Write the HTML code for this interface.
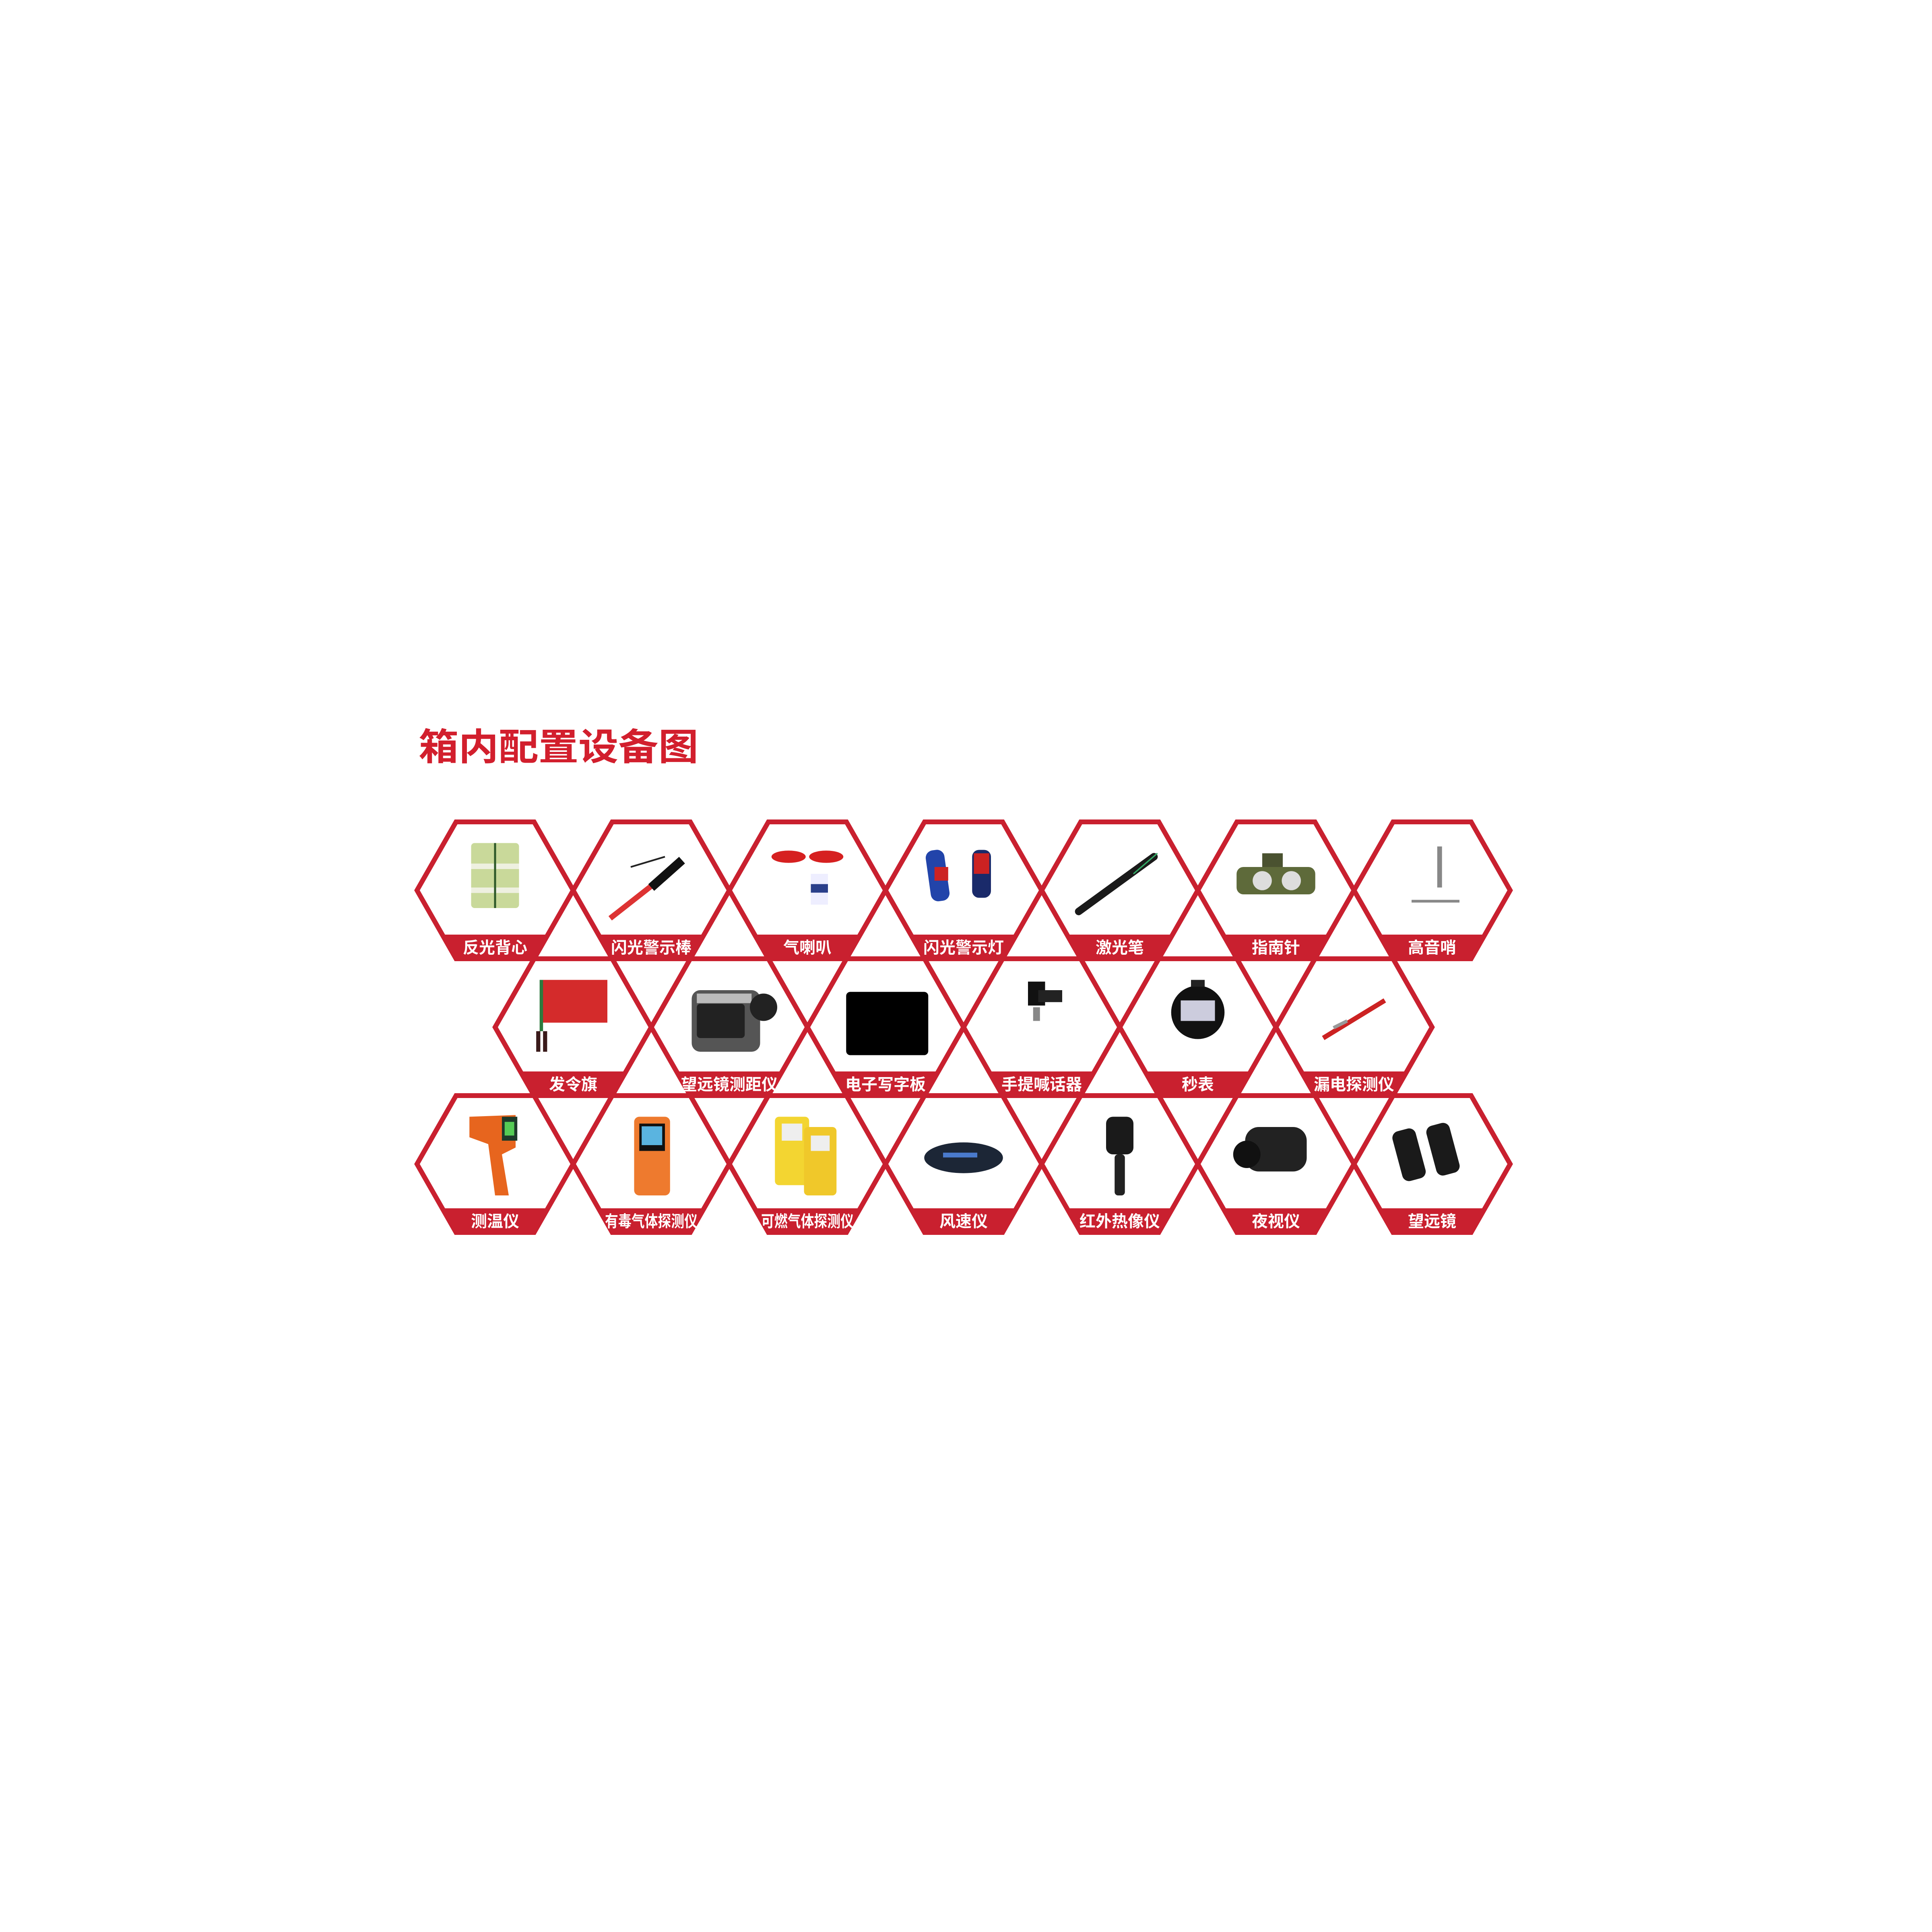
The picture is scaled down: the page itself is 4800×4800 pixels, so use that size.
<!DOCTYPE html>
<html><head><meta charset="utf-8">
<style>
html,body{margin:0;padding:0;background:#fff;}
svg{display:block}
text{font-family:"Liberation Sans","Noto Sans CJK SC",sans-serif;}
</style></head>
<body>
<svg width="4800" height="4800" viewBox="0 0 4800 4800" xmlns="http://www.w3.org/2000/svg">
<defs>
<g id="hex">
<polygon points="-194,0 -97,-170 97,-170 194,0 97,170 -97,170" fill="none" stroke="#c9202f" stroke-width="12" stroke-linejoin="miter"/>
<polygon points="-131,110 131,110 97,170 -97,170" fill="#c9202f"/>
</g>
</defs>
<text x="1040" y="1888" font-size="92" font-weight="bold" fill="#d21f2d" textLength="695" lengthAdjust="spacingAndGlyphs">箱内配置设备图</text>

<!-- Row 1 cy=2212 -->
<g transform="translate(1230,2212)"><use href="#hex"/><g transform="translate(0,10) scale(0.85)">
 <rect x="-70" y="-150" width="140" height="190" rx="10" fill="#c9d99a"/>
 <rect x="-70" y="-90" width="140" height="16" fill="#eef0e0"/><rect x="-70" y="-20" width="140" height="16" fill="#eef0e0"/>
 <line x1="0" y1="-150" x2="0" y2="40" stroke="#2f5a2a" stroke-width="6"/></g>
 <text x="0" y="156" font-size="40" font-weight="bold" fill="#fff" text-anchor="middle">反光背心</text></g>
<g transform="translate(1618,2212)"><use href="#hex"/><g transform="translate(0,10) scale(0.85)">
 <line x1="-120" y1="70" x2="20" y2="-40" stroke="#d33" stroke-width="16"/>
 <line x1="0" y1="-20" x2="90" y2="-100" stroke="#111" stroke-width="26"/>
 <line x1="-60" y1="-80" x2="40" y2="-110" stroke="#222" stroke-width="5"/></g>
 <text x="0" y="156" font-size="40" font-weight="bold" fill="#fff" text-anchor="middle" textLength="200" lengthAdjust="spacingAndGlyphs">闪光警示棒</text></g>
<g transform="translate(2006,2212)"><use href="#hex"/><g transform="translate(0,10) scale(0.85)">
 <ellipse cx="-55" cy="-110" rx="50" ry="18" fill="#d62020"/><ellipse cx="55" cy="-110" rx="50" ry="18" fill="#d62020"/>
 <rect x="10" y="-60" width="50" height="90" fill="#eef"/><rect x="10" y="-30" width="50" height="25" fill="#2a3f8a"/></g>
 <text x="0" y="156" font-size="40" font-weight="bold" fill="#fff" text-anchor="middle">气喇叭</text></g>
<g transform="translate(2394,2212)"><use href="#hex"/><g transform="translate(0,10) scale(0.85)">
 <rect x="-95" y="-140" width="55" height="150" rx="22" fill="#2244aa" transform="rotate(-8)"/>
 <rect x="-85" y="-80" width="40" height="40" fill="#c22"/>
 <rect x="25" y="-130" width="55" height="140" rx="20" fill="#1a2a6a"/>
 <rect x="30" y="-120" width="45" height="60" fill="#c22"/></g>
 <text x="0" y="156" font-size="40" font-weight="bold" fill="#fff" text-anchor="middle" textLength="200" lengthAdjust="spacingAndGlyphs">闪光警示灯</text></g>
<g transform="translate(2782,2212)"><use href="#hex"/><g transform="translate(0,10) scale(0.85)">
 <line x1="-120" y1="50" x2="100" y2="-110" stroke="#1a1a1a" stroke-width="22" stroke-linecap="round"/>
 <line x1="40" y1="-60" x2="110" y2="-120" stroke="#3a6" stroke-width="4"/></g>
 <text x="0" y="156" font-size="40" font-weight="bold" fill="#fff" text-anchor="middle">激光笔</text></g>
<g transform="translate(3170,2212)"><use href="#hex"/><g transform="translate(0,10) scale(0.85)">
 <rect x="-115" y="-80" width="230" height="80" rx="20" fill="#5e6a3a"/>
 <circle cx="-40" cy="-40" r="28" fill="#ddd"/><circle cx="45" cy="-40" r="28" fill="#ddd"/>
 <rect x="-40" y="-120" width="60" height="40" fill="#4a5230"/></g>
 <text x="0" y="156" font-size="40" font-weight="bold" fill="#fff" text-anchor="middle">指南针</text></g>
<g transform="translate(3558,2212)"><use href="#hex"/><g transform="translate(0,10) scale(0.85)">
 <rect x="15" y="-140" width="14" height="120" fill="#888"/>
 <line x1="-60" y1="20" x2="80" y2="20" stroke="#888" stroke-width="8"/></g>
 <text x="0" y="156" font-size="40" font-weight="bold" fill="#fff" text-anchor="middle">高音哨</text></g>

<!-- Row 2 cy=2552 -->
<g transform="translate(1424,2552)"><use href="#hex"/><g transform="translate(0,10) scale(0.85)">
 <rect x="-90" y="-150" width="190" height="125" fill="#d42b2b"/>
 <rect x="-98" y="-150" width="10" height="150" fill="#2d7a3e"/>
 <rect x="-108" y="0" width="12" height="60" fill="#3a1a1a"/><rect x="-88" y="0" width="12" height="60" fill="#3a1a1a"/></g>
 <text x="0" y="156" font-size="40" font-weight="bold" fill="#fff" text-anchor="middle">发令旗</text></g>
<g transform="translate(1812,2552)"><use href="#hex"/><g transform="translate(0,10) scale(0.85)">
 <rect x="-110" y="-120" width="200" height="180" rx="25" fill="#555"/>
 <rect x="-95" y="-80" width="140" height="100" rx="10" fill="#222"/>
 <rect x="-95" y="-110" width="160" height="28" fill="#bbb"/>
 <circle cx="100" cy="-70" r="40" fill="#222"/></g>
 <text x="0" y="156" font-size="40" font-weight="bold" fill="#fff" text-anchor="middle" textLength="240" lengthAdjust="spacingAndGlyphs">望远镜测距仪</text></g>
<g transform="translate(2200,2552)"><use href="#hex"/><g transform="translate(0,10) scale(0.85)">
 <rect x="-115" y="-115" width="240" height="185" rx="12" fill="#000"/></g>
 <text x="0" y="156" font-size="40" font-weight="bold" fill="#fff" text-anchor="middle" textLength="200" lengthAdjust="spacingAndGlyphs">电子写字板</text></g>
<g transform="translate(2588,2552)"><use href="#hex"/><g transform="translate(0,10) scale(0.85)">
 <rect x="-40" y="-145" width="50" height="70" fill="#111"/>
 <rect x="-10" y="-120" width="70" height="35" fill="#222"/>
 <rect x="-25" y="-70" width="20" height="40" fill="#888"/></g>
 <text x="0" y="156" font-size="40" font-weight="bold" fill="#fff" text-anchor="middle" textLength="200" lengthAdjust="spacingAndGlyphs">手提喊话器</text></g>
<g transform="translate(2976,2552)"><use href="#hex"/><g transform="translate(0,10) scale(0.85)">
 <circle cx="0" cy="-55" r="78" fill="#111"/>
 <rect x="-50" y="-90" width="100" height="60" fill="#ccd"/>
 <rect x="-20" y="-150" width="40" height="20" fill="#222"/></g>
 <text x="0" y="156" font-size="40" font-weight="bold" fill="#fff" text-anchor="middle">秒表</text></g>
<g transform="translate(3364,2552)"><use href="#hex"/><g transform="translate(0,10) scale(0.85)">
 <line x1="-90" y1="20" x2="90" y2="-90" stroke="#c22" stroke-width="14"/>
 <line x1="-60" y1="-10" x2="-20" y2="-30" stroke="#999" stroke-width="10"/></g>
 <text x="0" y="156" font-size="40" font-weight="bold" fill="#fff" text-anchor="middle" textLength="200" lengthAdjust="spacingAndGlyphs">漏电探测仪</text></g>

<!-- Row 3 cy=2892 -->
<g transform="translate(1230,2892)"><use href="#hex"/><g transform="translate(0,10) scale(0.85)">
 <polygon points="-75,-150 60,-155 60,-60 20,-40 40,80 0,80 -20,-70 -75,-90" fill="#e7651e"/>
 <rect x="20" y="-150" width="45" height="70" fill="#1d3a2a"/><rect x="28" y="-135" width="28" height="40" fill="#5c5"/></g>
 <text x="0" y="156" font-size="40" font-weight="bold" fill="#fff" text-anchor="middle">测温仪</text></g>
<g transform="translate(1618,2892)"><use href="#hex"/><g transform="translate(0,10) scale(0.85)">
 <rect x="-50" y="-150" width="105" height="230" rx="15" fill="#ee7a2e"/>
 <rect x="-35" y="-130" width="75" height="80" fill="#111"/><rect x="-28" y="-122" width="60" height="55" fill="#5ab4e0"/></g>
 <text x="0" y="156" font-size="40" font-weight="bold" fill="#fff" text-anchor="middle" textLength="230" lengthAdjust="spacingAndGlyphs">有毒气体探测仪</text></g>
<g transform="translate(2006,2892)"><use href="#hex"/><g transform="translate(0,10) scale(0.85)">
 <rect x="-95" y="-150" width="100" height="200" rx="12" fill="#f3d531"/>
 <rect x="-10" y="-120" width="95" height="200" rx="12" fill="#f0c82a"/>
 <rect x="-75" y="-130" width="60" height="50" fill="#eee"/><rect x="10" y="-95" width="55" height="45" fill="#eee"/></g>
 <text x="0" y="156" font-size="40" font-weight="bold" fill="#fff" text-anchor="middle" textLength="230" lengthAdjust="spacingAndGlyphs">可燃气体探测仪</text></g>
<g transform="translate(2394,2892)"><use href="#hex"/><g transform="translate(0,10) scale(0.85)">
 <ellipse cx="0" cy="-30" rx="115" ry="45" fill="#1c2636"/>
 <rect x="-60" y="-45" width="100" height="14" fill="#4a7acc"/></g>
 <text x="0" y="156" font-size="40" font-weight="bold" fill="#fff" text-anchor="middle">风速仪</text></g>
<g transform="translate(2782,2892)"><use href="#hex"/><g transform="translate(0,10) scale(0.85)">
 <rect x="-40" y="-150" width="80" height="110" rx="20" fill="#1a1a1a"/>
 <rect x="-15" y="-40" width="30" height="120" rx="10" fill="#222"/></g>
 <text x="0" y="156" font-size="40" font-weight="bold" fill="#fff" text-anchor="middle" textLength="200" lengthAdjust="spacingAndGlyphs">红外热像仪</text></g>
<g transform="translate(3170,2892)"><use href="#hex"/><g transform="translate(0,10) scale(0.85)">
 <rect x="-90" y="-120" width="180" height="130" rx="40" fill="#222"/>
 <circle cx="-85" cy="-40" r="40" fill="#111"/></g>
 <text x="0" y="156" font-size="40" font-weight="bold" fill="#fff" text-anchor="middle">夜视仪</text></g>
<g transform="translate(3558,2892)"><use href="#hex"/><g transform="translate(0,10) scale(0.85)">
 <rect x="-90" y="-130" width="70" height="150" rx="20" fill="#1a1a1a" transform="rotate(-15)"/>
 <rect x="10" y="-120" width="70" height="150" rx="20" fill="#1a1a1a" transform="rotate(-15)"/></g>
 <text x="0" y="156" font-size="40" font-weight="bold" fill="#fff" text-anchor="middle">望远镜</text></g>
</svg>
</body></html>
